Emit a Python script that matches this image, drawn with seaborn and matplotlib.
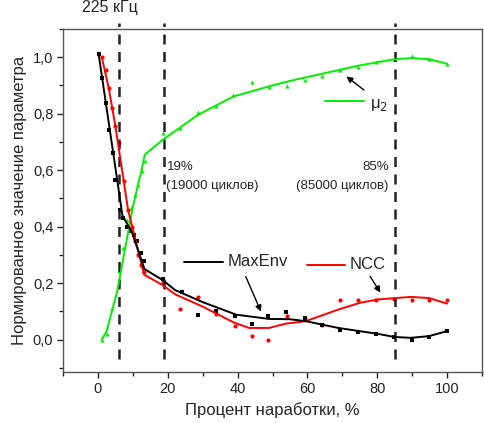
import numpy as np
import pandas as pd
import matplotlib
matplotlib.use("Agg")
import matplotlib.pyplot as plt
import seaborn as sns

# Measured points: MaxEnv (black squares)
maxenv_x = [0.3, 1.2, 2.2, 3.3, 4.2, 5.0, 6.4, 7.3, 8.3, 9.3, 10.3, 11.2, 12.2, 13.1,
            18.6, 24.0, 28.7, 33.9, 39.1, 44.1, 48.8, 53.9, 59.2, 64.1, 69.3, 74.5,
            79.7, 84.9, 89.8, 94.8, 100.0]
maxenv_y = [1.01, 0.926, 0.838, 0.743, 0.66, 0.566, 0.46, 0.43, 0.40, 0.385, 0.372, 0.348,
            0.307, 0.277, 0.215, 0.168, 0.088, 0.10, 0.083, 0.055, 0.085, 0.097, 0.075,
            0.05, 0.035, 0.026, 0.02, 0.008, 0.0, 0.01, 0.03]

# Measured points: NCC (red dots)
ncc_x = [1.05, 2.2, 3.1, 4.05, 5.0, 5.95, 7.4, 8.6, 9.8, 10.6, 11.4, 12.3, 13.1,
         18.6, 23.5, 28.7, 33.9, 39.1, 44.1, 48.8, 54.2, 59.2, 64.1, 69.3, 74.5,
         79.7, 84.9, 89.8, 94.8, 100.0]
ncc_y = [1.0, 0.956, 0.89, 0.82, 0.755, 0.696, 0.56, 0.46, 0.40, 0.35, 0.30, 0.265, 0.24,
         0.205, 0.107, 0.152, 0.09, 0.047, 0.014, 0.0, 0.085, 0.075, 0.05, 0.14, 0.14,
         0.14, 0.142, 0.14, 0.14, 0.14]

# Measured points: mu2 (green triangles)
mu2_x = [1.1, 2.5, 4.15, 6.0, 7.3, 8.4, 9.35, 10.5, 11.4, 12.5, 13.4, 18.6, 23.5, 28.7,
         33.7, 38.8, 44.0, 49.0, 54.2, 59.2, 64.1, 69.3, 74.5, 79.7, 84.9, 89.8, 94.8, 100.0]
mu2_y = [0.0, 0.02, 0.11, 0.242, 0.324, 0.425, 0.466, 0.511, 0.549, 0.596, 0.631, 0.732,
         0.749, 0.805, 0.828, 0.867, 0.914, 0.893, 0.899, 0.918, 0.932, 0.956, 0.967,
         0.982, 0.993, 1.003, 0.993, 0.977]

# Approximating curves
maxenv_fit_x = [0.2, 7.0, 9.8, 13.3, 18.6, 22.1, 30.1, 39.6, 49.0, 54.9, 59.5, 68.8,
                80.2, 84.9, 89.6, 94.8, 100.0]
maxenv_fit_y = [1.01, 0.44, 0.378, 0.25, 0.21, 0.175, 0.132, 0.088, 0.073, 0.072, 0.065,
                0.041, 0.02, 0.009, 0.006, 0.012, 0.03]

ncc_fit_x = [1.1, 3.1, 5.0, 7.4, 8.6, 13.2, 18.6, 22.1, 30.1, 39.1, 43.3, 49.0, 53.7,
             59.5, 68.8, 75.0, 80.2, 89.6, 94.8, 100.0]
ncc_fit_y = [1.0, 0.89, 0.755, 0.56, 0.46, 0.23, 0.192, 0.16, 0.116, 0.059, 0.041, 0.041,
             0.056, 0.065, 0.106, 0.13, 0.142, 0.151, 0.147, 0.127]

mu2_fit_x = [1.1, 2.5, 4.0, 5.5, 7.0, 8.5, 10.0, 11.5, 12.5, 13.4, 18.6, 28.7, 38.8,
             49.0, 55.6, 65.1, 74.5, 84.9, 89.8, 94.8, 100.0]
mu2_fit_y = [0.0, 0.03, 0.1, 0.17, 0.27, 0.37, 0.47, 0.55, 0.6, 0.655, 0.708, 0.796,
             0.861, 0.897, 0.918, 0.944, 0.97, 0.993, 0.997, 0.993, 0.977]

# Vertical markers
marker_lines = [6.0, 19.0, 85.0]

x_ticks = [0, 20, 40, 60, 80, 100]
y_ticks = [0.0, 0.2, 0.4, 0.6, 0.8, 1.0]
y_tick_labels = ["0,0", "0,2", "0,4", "0,6", "0,8", "1,0"]

sns.set_style("ticks")
plt.rcParams["font.family"] = ["Liberation Sans", "DejaVu Sans"]

fig = plt.figure(figsize=(4.85, 4.23), dpi=100)
ax = fig.add_axes([0.13, 0.1206, 0.864, 0.8108])

GREEN = "#00ee00"
RED = "#ff0000"
BLACK = "#000000"

curves = [
    (mu2_fit_x, mu2_fit_y, GREEN),
    (ncc_fit_x, ncc_fit_y, RED),
    (maxenv_fit_x, maxenv_fit_y, BLACK),
]
for cx, cy, col in curves:
    sns.lineplot(x=cx, y=cy, ax=ax, color=col, lw=1.4, sort=False, estimator=None)

sns.scatterplot(x=mu2_x, y=mu2_y, ax=ax, color=GREEN, marker="^", s=9, linewidth=0)
sns.scatterplot(x=ncc_x, y=ncc_y, ax=ax, color=RED, marker="o", s=9, linewidth=0)
sns.scatterplot(x=maxenv_x, y=maxenv_y, ax=ax, color=BLACK, marker="s", s=8, linewidth=0)

for xv in marker_lines:
    ax.plot([xv, xv], [-0.07, 1.12], color="#222222", lw=1.8, ls=(0, (4, 3)),
            clip_on=False, zorder=1)

ax.set_xlim(-10, 110)
ax.set_ylim(-0.115, 1.1)
ax.set_xticks(x_ticks)
ax.set_xticks(np.arange(-10, 111, 10), minor=True)
ax.set_yticks(y_ticks)
ax.set_yticklabels(y_tick_labels)
ax.set_yticks(np.arange(-0.1, 1.11, 0.1), minor=True)
ax.tick_params(axis="both", which="major", direction="out", length=4, width=1,
               labelsize=10.5, colors="#222222", pad=3)
ax.tick_params(axis="both", which="minor", direction="out", length=3, width=1,
               colors="#222222")
for sp in ax.spines.values():
    sp.set_color("#555555")
    sp.set_linewidth(1.0)

ax.set_xlabel("Процент наработки, %", fontsize=12, labelpad=5)
ax.set_ylabel("Нормированное значение параметра", fontsize=12, labelpad=4)

# Annotations
fs_note = 9.5
ax.text(19.8, 0.61, "19%", fontsize=fs_note, va="center", ha="left")
ax.text(19.6, 0.545, "(19000 циклов)", fontsize=fs_note, va="center", ha="left")
ax.text(83.3, 0.61, "85%", fontsize=fs_note, va="center", ha="right")
ax.text(83.3, 0.545, "(85000 циклов)", fontsize=fs_note, va="center", ha="right")
ax.text(3.5, 1.175, "225 кГц", fontsize=11.5, va="center", ha="center", clip_on=False)

# Series labels with pointer arrows
ax.plot([65.1, 76.2], [0.844, 0.844], color=GREEN, lw=1.4)
ax.text(77.8, 0.832, "μ$_2$", fontsize=12, va="center", ha="left")
ax.annotate("", xy=(70.5, 0.938), xytext=(76.8, 0.878),
            arrowprops=dict(arrowstyle="-|>", color=BLACK, lw=1.0, mutation_scale=9))

ax.plot([24.6, 35.8], [0.275, 0.275], color=BLACK, lw=1.4)
ax.text(37.0, 0.275, "MaxEnv", fontsize=12, va="center", ha="left")
ax.annotate("", xy=(47.0, 0.09), xytext=(42.0, 0.232),
            arrowprops=dict(arrowstyle="-|>", color=BLACK, lw=1.0, mutation_scale=9))

ax.plot([59.9, 70.7], [0.265, 0.265], color=RED, lw=1.4)
ax.text(72.0, 0.265, "NCC", fontsize=12, va="center", ha="left")
ax.annotate("", xy=(81.3, 0.158), xytext=(77.5, 0.232),
            arrowprops=dict(arrowstyle="-|>", color=BLACK, lw=1.0, mutation_scale=9))

fig.savefig("out.png", dpi=100)
